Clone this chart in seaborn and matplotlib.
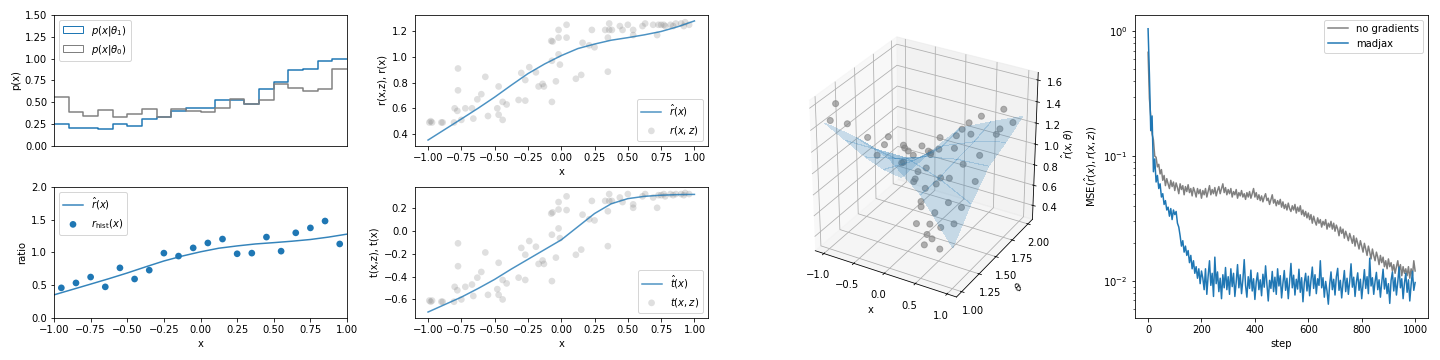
import numpy as np
import pandas as pd
import matplotlib
matplotlib.use("Agg")
import matplotlib.pyplot as plt
from matplotlib.patches import Patch
import seaborn as sns

# --- histograms p(x|theta), 20 bins on [-1, 1]
bin_centers = [-0.95, -0.85, -0.75, -0.65, -0.55, -0.45, -0.35, -0.25, -0.15, -0.05,
               0.05, 0.15, 0.25, 0.35, 0.45, 0.55, 0.65, 0.75, 0.85, 0.95]
p_theta1 = [0.256, 0.21, 0.21, 0.2, 0.256, 0.226, 0.314, 0.33, 0.40, 0.43,
            0.44, 0.53, 0.53, 0.485, 0.655, 0.735, 0.87, 0.88, 0.975, 1.0]
p_theta0 = [0.565, 0.395, 0.345, 0.415, 0.335, 0.37, 0.428, 0.33, 0.42, 0.40,
            0.385, 0.44, 0.54, 0.485, 0.53, 0.715, 0.665, 0.635, 0.655, 0.885]
r_hist = [0.46, 0.535, 0.625, 0.475, 0.765, 0.595, 0.73, 0.99, 0.945, 1.07,
          1.145, 1.205, 0.98, 0.99, 1.235, 1.02, 1.3, 1.375, 1.48, 1.13]

# --- fitted curves
curve_x = [-1.0, -0.875, -0.75, -0.625, -0.5, -0.375, -0.25, -0.125, 0.0,
           0.125, 0.25, 0.375, 0.5, 0.625, 0.75, 0.875, 1.0]
r_hat = [0.353, 0.435, 0.517, 0.60, 0.687, 0.78, 0.87, 0.945, 1.01,
         1.065, 1.10, 1.13, 1.15, 1.172, 1.198, 1.235, 1.28]
t_hat = [-0.71, -0.645, -0.58, -0.505, -0.425, -0.335, -0.25, -0.165, -0.08,
         0.035, 0.15, 0.235, 0.28, 0.30, 0.31, 0.315, 0.317]

# --- per-sample joint ratios / scores
samp_x = [-0.99, -0.98, -0.97, -0.9, -0.89, -0.805, -0.8, -0.78, -0.775, -0.775,
          -0.75, -0.72, -0.67, -0.66, -0.63, -0.6, -0.57, -0.55, -0.48, -0.47,
          -0.47, -0.44, -0.44, -0.41, -0.32, -0.3, -0.27, -0.27, -0.24, -0.19,
          -0.17, -0.14, -0.13, -0.075, -0.065, -0.07, -0.07, -0.04, -0.02, -0.02,
          -0.02, -0.01, 0.04, 0.04, 0.11, 0.16, 0.15, 0.21, 0.23, 0.25,
          0.33, 0.35, 0.35, 0.36, 0.36, 0.38, 0.44, 0.46, 0.5, 0.54,
          0.54, 0.61, 0.63, 0.69, 0.72, 0.73, 0.75, 0.77, 0.78, 0.82,
          0.84, 0.86, 0.9, 0.92, 0.93, 0.96]
samp_r = [0.49, 0.50, 0.49, 0.49, 0.49, 0.49, 0.60, 0.58, 0.91, 0.74,
          0.51, 0.60, 0.60, 0.52, 0.67, 0.71, 0.845, 0.54, 0.60, 0.55,
          0.77, 0.65, 0.51, 0.63, 0.665, 0.875, 0.66, 0.82, 0.92, 0.88,
          0.77, 0.79, 0.77, 1.125, 1.12, 0.97, 0.65, 0.81, 1.21, 1.15,
          1.02, 0.94, 1.15, 1.25, 0.83, 1.11, 0.86, 1.09, 1.21, 1.075,
          1.21, 0.885, 1.15, 1.26, 1.21, 1.21, 1.24, 1.21, 1.25, 1.21,
          1.17, 1.24, 1.26, 1.25, 1.17, 1.25, 1.25, 1.25, 1.24, 1.25,
          1.24, 1.26, 1.26, 1.24, 1.27, 1.25]
samp_t = [-0.61, -0.62, -0.61, -0.62, -0.62, -0.62, -0.49, -0.52, -0.11, -0.31,
          -0.60, -0.49, -0.47, -0.57, -0.41, -0.36, -0.19, -0.56, -0.51, -0.56,
          -0.28, -0.43, -0.60, -0.46, -0.41, -0.15, -0.43, -0.21, -0.09, -0.14,
          -0.29, -0.26, -0.29, 0.15, 0.16, -0.035, -0.44, -0.235, 0.25, 0.185,
          0.02, -0.065, 0.18, 0.30, -0.21, 0.14, -0.165, 0.10, 0.26, 0.09,
          0.26, -0.135, 0.17, 0.32, 0.26, 0.26, 0.29, 0.25, 0.32, 0.20,
          0.23, 0.30, 0.32, 0.29, 0.20, 0.31, 0.31, 0.32, 0.30, 0.32,
          0.31, 0.32, 0.32, 0.31, 0.33, 0.32]

# --- learned surface r_hat(x, theta)
surf_x = [-1.0, -0.5, 0.0, 0.5, 1.0]
surf_theta = [1.0, 1.25, 1.5, 1.75, 2.0]
surf_r = [[1.45, 1.40, 1.30, 1.05, 0.65],
          [1.15, 1.15, 1.15, 1.05, 0.90],
          [0.85, 0.92, 1.02, 1.08, 1.10],
          [0.58, 0.75, 0.98, 1.10, 1.18],
          [0.35, 0.69, 1.01, 1.15, 1.28]]
pts_x = [-0.95, -0.98, -0.9, -0.7, -0.55, -0.6, -0.4, -0.3, -0.45, -0.2,
         -0.1, 0.0, -0.15, 0.1, 0.05, 0.2, 0.3, 0.15, 0.4, 0.45,
         0.55, 0.6, 0.7, 0.8, 0.65, 0.35, 0.25, 0.5, 0.45, 0.6,
         0.75, 0.85, 0.95, 0.7, 0.9, 0.0, -0.3, 0.1, 0.3, 0.8,
         -0.8, -0.65, 0.95, 0.2, -0.05, 0.55, 0.85, 0.4,
         0.3, 0.2, 0.45, 0.5, 0.1]
pts_theta = [1.1, 1.05, 1.2, 1.3, 1.4, 1.7, 1.6, 1.8, 1.9, 1.5,
             1.3, 1.2, 1.7, 1.6, 1.9, 1.4, 1.1, 1.05, 1.3, 1.05,
             1.15, 1.0, 1.1, 1.0, 1.25, 1.6, 1.8, 1.7, 1.9, 1.5,
             1.6, 1.8, 1.9, 2.0, 1.4, 1.45, 1.25, 1.25, 1.45, 1.3,
             1.5, 1.95, 1.65, 1.95, 1.75, 1.35, 1.15, 1.15,
             1.3, 1.2, 1.2, 1.05, 1.35]
pts_r = [1.58, 1.45, 1.35, 1.2, 1.1, 0.75, 0.95, 0.85, 0.6, 1.0,
         1.2, 1.3, 0.9, 1.05, 1.0, 1.15, 1.1, 1.25, 0.95, 0.9,
         0.8, 0.7, 0.72, 0.6, 0.85, 1.1, 1.15, 1.2, 1.25, 1.05,
         1.1, 1.25, 1.27, 1.3, 1.0, 1.15, 1.3, 0.95, 0.9, 0.8,
         0.9, 0.5, 1.3, 1.12, 1.05, 1.0, 0.75, 1.0,
         0.55, 0.6, 0.5, 0.55, 0.7]

# --- training curves (every 5 steps)
steps = np.arange(0, 1001, 5)
loss_nograd = [
    0.68, 0.29, 0.21, 0.15, 0.135, 0.10, 0.098, 0.082, 0.086, 0.072,
    0.078, 0.064, 0.070, 0.058, 0.066, 0.060, 0.055, 0.064, 0.057, 0.062,
    0.053, 0.061, 0.056, 0.050, 0.060, 0.054, 0.058, 0.049, 0.057, 0.052,
    0.059, 0.051, 0.055, 0.048, 0.056, 0.052, 0.047, 0.055, 0.050, 0.054,
    0.046, 0.053, 0.049, 0.055, 0.047, 0.052, 0.058, 0.049, 0.054, 0.050,
    0.056, 0.048, 0.053, 0.057, 0.050, 0.055, 0.060, 0.051, 0.056, 0.049,
    0.054, 0.050, 0.055, 0.047, 0.052, 0.049, 0.054, 0.046, 0.051, 0.048,
    0.053, 0.047, 0.050, 0.045, 0.051, 0.047, 0.052, 0.046, 0.050, 0.055,
    0.047, 0.051, 0.045, 0.049, 0.044, 0.048, 0.043, 0.047, 0.050, 0.044,
    0.046, 0.041, 0.045, 0.049, 0.042, 0.045, 0.040, 0.044, 0.041, 0.045,
    0.039, 0.043, 0.038, 0.041, 0.037, 0.042, 0.038, 0.036, 0.040, 0.037,
    0.041, 0.035, 0.039, 0.036, 0.040, 0.034, 0.037, 0.033, 0.036, 0.032,
    0.035, 0.031, 0.034, 0.029, 0.033, 0.030, 0.028, 0.032, 0.029, 0.031,
    0.027, 0.030, 0.028, 0.031, 0.026, 0.029, 0.027, 0.030, 0.026, 0.029,
    0.025, 0.028, 0.026, 0.023, 0.027, 0.024, 0.026, 0.022, 0.025, 0.023,
    0.021, 0.024, 0.022, 0.020, 0.023, 0.019, 0.022, 0.020, 0.018, 0.021,
    0.019, 0.017, 0.020, 0.018, 0.016, 0.019, 0.017, 0.015, 0.018, 0.016,
    0.0145, 0.017, 0.0155, 0.0135, 0.016, 0.014, 0.0155, 0.013, 0.0145, 0.0125,
    0.015, 0.013, 0.014, 0.012, 0.0135, 0.0115, 0.013, 0.0145, 0.012, 0.0135,
    0.011, 0.013, 0.0115, 0.0125, 0.011, 0.013, 0.0105, 0.0125, 0.011, 0.0145,
    0.012]
loss_madjax = [
    1.05, 0.45, 0.16, 0.21, 0.075, 0.095, 0.062, 0.07, 0.055, 0.06,
    0.047, 0.05, 0.041, 0.044, 0.037, 0.039, 0.033, 0.038, 0.031, 0.037,
    0.034, 0.036, 0.029, 0.027, 0.023, 0.019, 0.021, 0.017, 0.019, 0.016,
    0.0175, 0.014, 0.016, 0.0125, 0.0145, 0.0115, 0.013, 0.0105, 0.0125, 0.0095,
    0.012, 0.0105, 0.0085, 0.0125, 0.0078, 0.011, 0.0145, 0.0092, 0.0115, 0.0075,
    0.0155, 0.0095, 0.0118, 0.0082, 0.0105, 0.0072, 0.0112, 0.0088, 0.0128, 0.0085,
    0.0108, 0.0078, 0.0125, 0.009, 0.0115, 0.0075, 0.0098, 0.0135, 0.0088, 0.0112,
    0.0079, 0.0102, 0.0148, 0.0092, 0.0074, 0.0108, 0.0087, 0.0122, 0.0083, 0.0104,
    0.0071, 0.0098, 0.0116, 0.0085, 0.0102, 0.0076, 0.0113, 0.0089, 0.0132, 0.0094,
    0.0069, 0.0101, 0.0087, 0.0119, 0.0082, 0.0107, 0.0078, 0.0125, 0.0091, 0.011,
    0.0073, 0.0096, 0.0121, 0.0084, 0.0105, 0.0072, 0.0099, 0.0138, 0.0088, 0.0111,
    0.0077, 0.0103, 0.0086, 0.0124, 0.0081, 0.0106, 0.0068, 0.0097, 0.0115, 0.0083,
    0.0109, 0.0076, 0.0101, 0.0129, 0.0087, 0.0112, 0.0079, 0.0104, 0.0092, 0.0145,
    0.0088, 0.0106, 0.0074, 0.0099, 0.0083, 0.0065, 0.0094, 0.0118, 0.0085, 0.0103,
    0.0077, 0.0108, 0.0126, 0.0084, 0.0101, 0.0073, 0.0096, 0.0121, 0.0082, 0.0105,
    0.0078, 0.0099, 0.0137, 0.0089, 0.0107, 0.0075, 0.0098, 0.0116, 0.0084, 0.0103,
    0.0072, 0.0095, 0.0123, 0.0087, 0.0108, 0.0079, 0.0152, 0.0091, 0.0106, 0.0078,
    0.0099, 0.0117, 0.0085, 0.0102, 0.0074, 0.0097, 0.0124, 0.0086, 0.0105, 0.0079,
    0.0095, 0.0066, 0.0101, 0.0118, 0.0083, 0.0106, 0.0077, 0.0098, 0.0129, 0.0088,
    0.0104, 0.0072, 0.0096, 0.0115, 0.0081, 0.0102, 0.0069, 0.0093, 0.0119, 0.0084,
    0.0097]

hist_df = pd.DataFrame({"x": bin_centers, "p1": p_theta1, "p0": p_theta0})

fig = plt.figure(figsize=(20, 5), dpi=72)

# top left: histograms
ax = fig.add_axes([0.0375, 0.5944, 0.2035, 0.364])
sns.histplot(data=hist_df, x="x", weights="p1", binwidth=0.1, binrange=(-1, 1),
             element="step", fill=False, color="C0", ax=ax)
sns.histplot(data=hist_df, x="x", weights="p0", binwidth=0.1, binrange=(-1, 1),
             element="step", fill=False, color="gray", ax=ax)
ax.set_xlim(-1, 1)
ax.set_ylim(0, 1.5)
ax.set_xticks([])
ax.set_xlabel("")
ax.set_ylabel("p(x)")
ax.legend(handles=[Patch(facecolor="none", edgecolor="C0", label=r"$p(x|\theta_1)$"),
                   Patch(facecolor="none", edgecolor="gray", label=r"$p(x|\theta_0)$")],
          loc="upper left")

# bottom left: ratio
ax = fig.add_axes([0.0375, 0.1167, 0.2035, 0.364])
sns.lineplot(x=curve_x, y=r_hat, color="C0", alpha=0.9, ax=ax, label=r"$\hat{r}(x)$")
sns.scatterplot(x=bin_centers, y=r_hist, color="C0", edgecolor="none", s=45,
                ax=ax, label=r"$r_\mathrm{hist}(x)$")
ax.set_xlim(-1, 1)
ax.set_ylim(0, 2)
ax.set_xticks(np.arange(-1, 1.01, 0.25))
ax.set_yticks([0, 0.5, 1.0, 1.5, 2.0])
ax.set_xlabel("x")
ax.set_ylabel("ratio")
ax.legend(loc="upper left")

# top middle: r(x,z)
ax = fig.add_axes([0.288, 0.5944, 0.2035, 0.364])
sns.lineplot(x=curve_x, y=r_hat, color="C0", alpha=0.8, ax=ax, label=r"$\hat{r}(x)$")
sns.scatterplot(x=samp_x, y=samp_r, color="gray", alpha=0.25, edgecolor="none",
                s=45, ax=ax, label=r"$r(x,z)$")
ax.set_xlabel("x")
ax.set_ylabel("r(x,z), r(x)")
ax.legend(loc="lower right")

# bottom middle: t(x,z)
ax = fig.add_axes([0.288, 0.1167, 0.2035, 0.364])
sns.lineplot(x=curve_x, y=t_hat, color="C0", alpha=0.8, ax=ax, label=r"$\hat{t}(x)$")
sns.scatterplot(x=samp_x, y=samp_t, color="gray", alpha=0.25, edgecolor="none",
                s=45, ax=ax, label=r"$t(x,z)$")
ax.set_xlabel("x")
ax.set_ylabel("t(x,z), t(x)")
ax.legend(loc="lower right")

# 3d surface
ax3 = fig.add_axes([0.538, 0.1167, 0.204, 0.8417], projection="3d")
ax3.set_box_aspect((1, 1, 1.05), zoom=0.95)
X, T = np.meshgrid(surf_x, surf_theta)
ax3.plot_surface(X, T, np.array(surf_r), color="C0", alpha=0.22, linewidth=0,
                 shade=False, antialiased=False)
ax3.scatter(pts_x, pts_theta, pts_r, color="gray", alpha=0.6, s=36)
ax3.set_xticks([-1.0, -0.5, 0.0, 0.5, 1.0])
ax3.set_yticks([1.0, 1.25, 1.5, 1.75, 2.0])
ax3.set_xlabel("x")
ax3.set_ylabel(r"$\theta$")
ax3.zaxis.set_rotate_label(False)
ax3.set_zlabel(r"$\hat{r}(x,\theta)$", rotation=90, labelpad=2)

# right: training loss
ax = fig.add_axes([0.788, 0.1167, 0.204, 0.8417])
sns.lineplot(x=steps, y=loss_nograd, color="gray", ax=ax, label="no gradients")
sns.lineplot(x=steps, y=loss_madjax, color="C0", ax=ax, label="madjax")
ax.set_yscale("log")
ax.set_xlabel("step")
ax.set_ylabel(r"MSE$(\hat{r}(x), r(x,z))$")
ax.legend(loc="upper right")

fig.savefig("out.png", dpi=72)
